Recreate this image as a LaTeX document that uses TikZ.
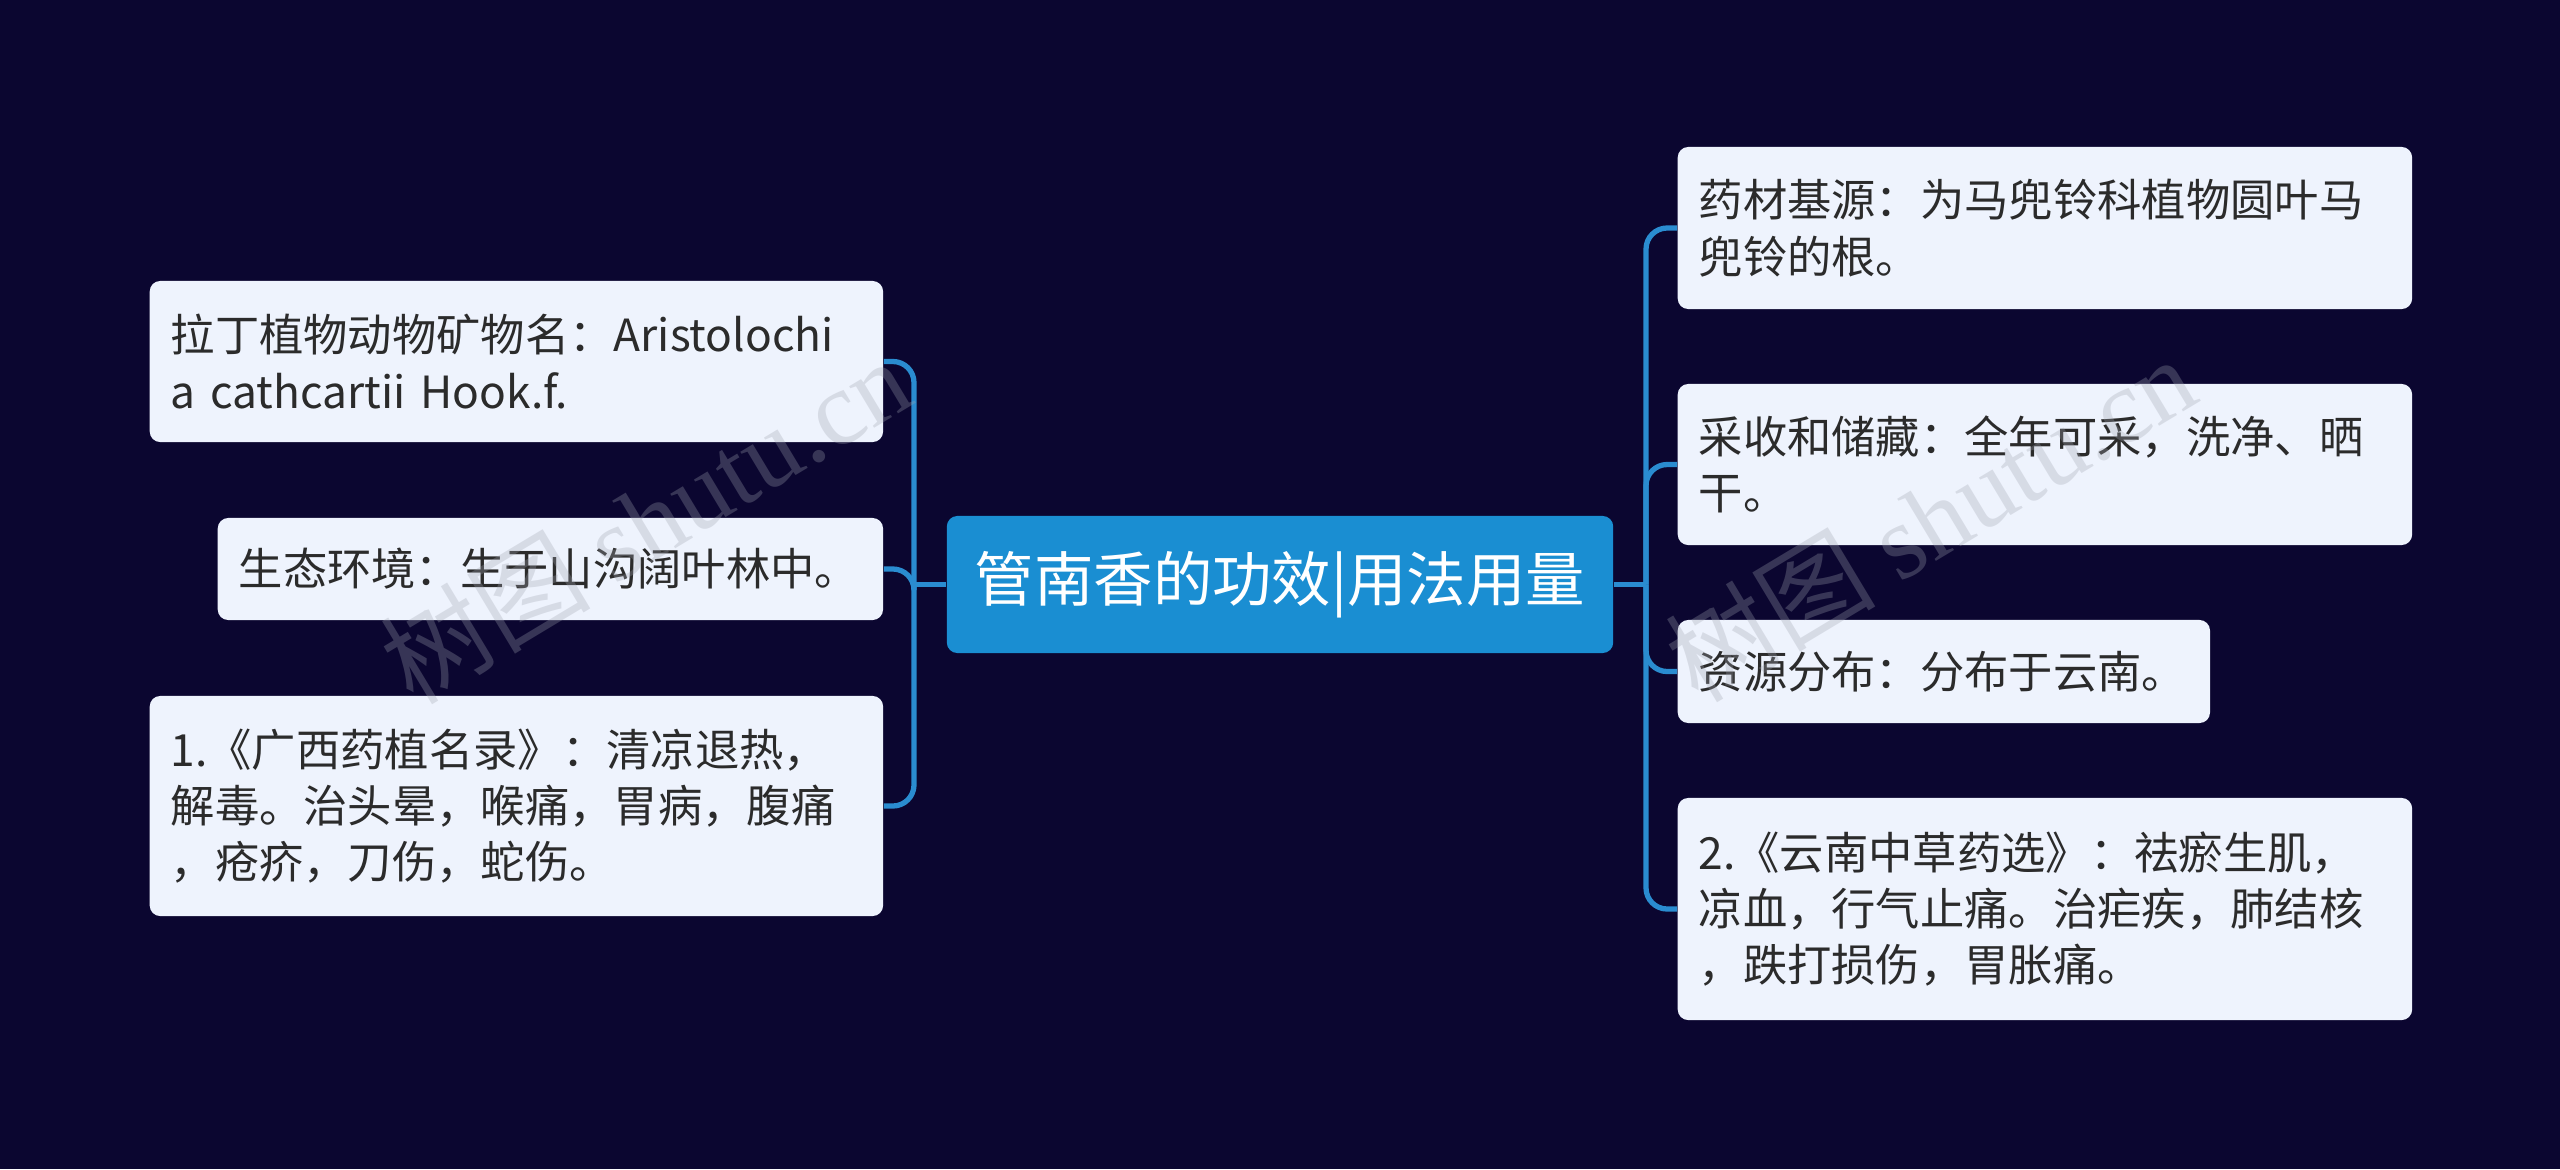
\documentclass[tikz,border=0pt]{standalone}
\usepackage{fontspec}
\setmainfont{Noto Sans CJK SC}
\newfontfamily\wmserif{Liberation Serif}
\usetikzlibrary{positioning}
\definecolor{bgNavy}{HTML}{0B0630}
\definecolor{leafFill}{HTML}{EEF3FD}
\definecolor{rootBlue}{HTML}{1A8ED2}
\definecolor{linkBlue}{HTML}{2A8CD0}
\definecolor{textDark}{HTML}{2B2B2B}
\definecolor{wmGray}{HTML}{A0A4B0}
\tikzset{
  leaf/.style={rectangle, rounded corners=3pt, fill=leafFill, text=textDark,
               anchor=west, align=left, inner xsep=0.21cm, inner ysep=0pt,
               font=\fontsize{12.6}{16}\selectfont},
  root/.style={rectangle, rounded corners=3pt, fill=rootBlue, text=white,
               font=\fontsize{16.9}{19}\selectfont,
               minimum width=6.66cm, minimum height=1.37cm},
  link/.style={draw=linkBlue, line width=1.5pt, rounded corners=6pt},
  wmark/.style={text=wmGray, opacity=0.3, rotate=31, font=\fontsize{30}{32}\selectfont},
}
\begin{document}
\begin{tikzpicture}[x=0.01cm, y=-0.01cm]
    \fill[bgNavy] (0,0) rectangle (2560,1169);
    \useasboundingbox (0,0) rectangle (2560,1169);

    \node[root] (root) at (1280,584.5) {管南香的功效|用法用量};

    % left branch
    \node[leaf, minimum width=7.33cm, text width=6.91cm, minimum height=1.61cm] (l1) at (149,361.5)
      {拉丁植物动物矿物名：Aristolochi\\a cathcartii Hook.f.};
    \node[leaf, minimum width=6.65cm, text width=6.23cm, minimum height=1.02cm] (l2) at (217,569)
      {生态环境：生于山沟阔叶林中。};
    \node[leaf, minimum width=7.33cm, text width=6.91cm, minimum height=2.20cm] (l3) at (149,806)
      {1.《广西药植名录》：清凉退热，\\解毒。治头晕，喉痛，胃病，腹痛\\，疮疥，刀伤，蛇伤。};

    % right branch
    \node[leaf, minimum width=7.34cm, text width=6.92cm, minimum height=1.62cm] (r1) at (1677,228)
      {药材基源：为马兜铃科植物圆叶马\\兜铃的根。};
    \node[leaf, minimum width=7.34cm, text width=6.92cm, minimum height=1.61cm] (r2) at (1677,464.5)
      {采收和储藏：全年可采，洗净、晒\\干。};
    \node[leaf, minimum width=5.32cm, text width=4.90cm, minimum height=1.03cm] (r3) at (1677,671.5)
      {资源分布：分布于云南。};
    \node[leaf, minimum width=7.34cm, text width=6.92cm, minimum height=2.22cm] (r4) at (1677,909)
      {2.《云南中草药选》：祛瘀生肌，\\凉血，行气止痛。治疟疾，肺结核\\，跌打损伤，胃胀痛。};

    \coordinate (lbus) at (914,584.5);
    \coordinate (rbus) at (1646,584.5);
    \draw[link] (root.west) -- (lbus);
    \draw[link] (root.east) -- (rbus);
    \foreach \n in {l1,l2,l3} \draw[link] (lbus) |- (\n.east);
    \foreach \n in {r1,r2,r3,r4} \draw[link] (rbus) |- (\n.west);

    % watermarks
    \node[wmark] (wm1) at (645,520) {树图 {\wmserif shutu.cn}};
    \node[wmark] (wm2) at (1930,518) {树图 {\wmserif shutu.cn}};
\end{tikzpicture}
\end{document}
